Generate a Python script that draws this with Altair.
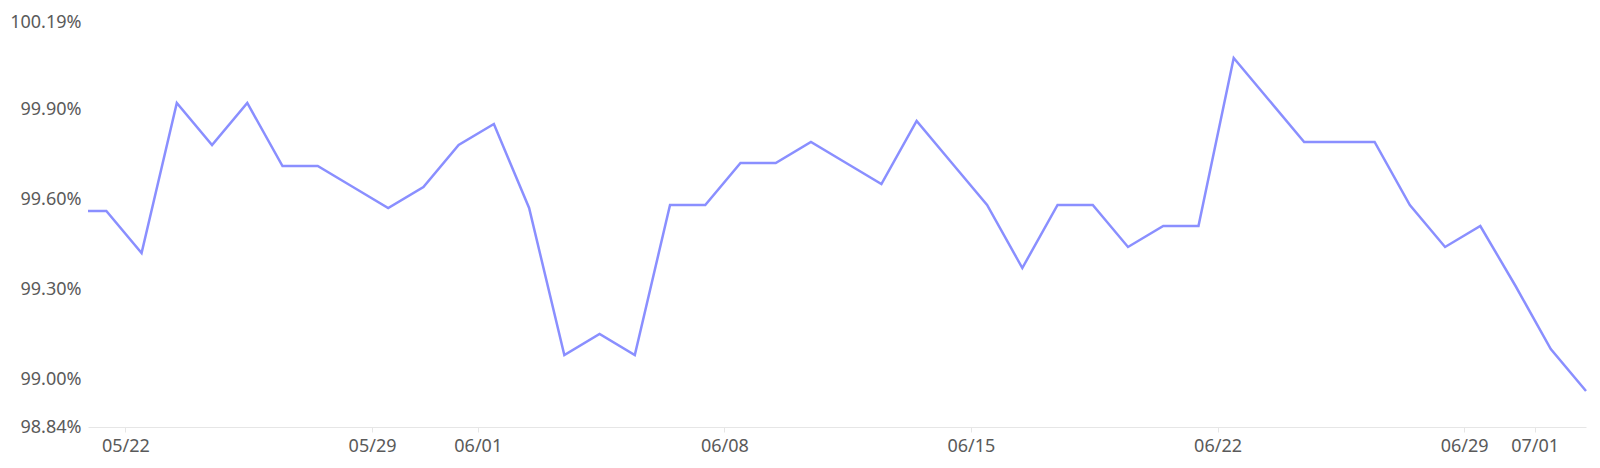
import altair as alt
import pandas as pd

# ---- data ----
times = ["2024-05-20T22:30:00"] + [
    f"2024-05-{d:02d}T11:00:00" for d in range(21, 32)
] + [f"2024-06-{d:02d}T11:00:00" for d in range(1, 31)] + [
    f"2024-07-{d:02d}T11:00:00" for d in range(1, 3)
]

values = [
    99.56, 99.56, 99.42, 99.92, 99.78, 99.92, 99.71, 99.71, 99.64, 99.57,
    99.64, 99.78, 99.85, 99.57, 99.08, 99.15, 99.08, 99.58, 99.58, 99.72,
    99.72, 99.79, 99.72, 99.65, 99.86, 99.72, 99.58, 99.37, 99.58, 99.58,
    99.44, 99.51, 99.51, 100.07, 99.93, 99.79, 99.79, 99.79, 99.58, 99.44,
    99.51, 99.31, 99.10, 98.96,
]

y_ticks = [98.84, 99.00, 99.30, 99.60, 99.90, 100.19]
x_tick_dates = [(5, 22), (5, 29), (6, 1), (6, 8), (6, 15), (6, 22), (6, 29), (7, 1)]

df = pd.DataFrame({"time": times, "value": values})

FONT = "Noto Sans"
LABEL_COLOR = "#5a5a5a"

chart = (
    alt.Chart(df)
    .mark_line(color="#8a8fff", strokeWidth=2.5)
    .encode(
        x=alt.X(
            "time:T",
            title=None,
            scale=alt.Scale(nice=False),
            axis=alt.Axis(
                values=[alt.DateTime(year=2024, month=m, date=d) for m, d in x_tick_dates],
                format="%m/%d",
                grid=False,
                domainColor="#e6e6e6",
                tickColor="#e6e6e6",
                tickSize=5,
                labelPadding=5,
                labelFlush=False,
                labelOverlap=False,
                labelFont=FONT,
                labelFontSize=18,
                labelColor=LABEL_COLOR,
            ),
        ),
        y=alt.Y(
            "value:Q",
            title=None,
            scale=alt.Scale(domain=[98.84, 100.19], nice=False, zero=False),
            axis=alt.Axis(
                values=y_ticks,
                labelExpr="format(datum.value, '.2f') + '%'",
                grid=False,
                domain=False,
                ticks=False,
                tickSize=0,
                labelPadding=7,
                labelFont=FONT,
                labelFontSize=18,
                labelColor=LABEL_COLOR,
            ),
        ),
    )
    .properties(
        width=1498,
        height=405,
        autosize=alt.AutoSizeParams(type="none"),
        padding={"left": 80, "top": 14, "right": 5, "bottom": 30},
        background="white",
    )
    .configure_view(stroke=None)
)

chart.save("out.html", embed_options={"renderer": "svg", "actions": False})
